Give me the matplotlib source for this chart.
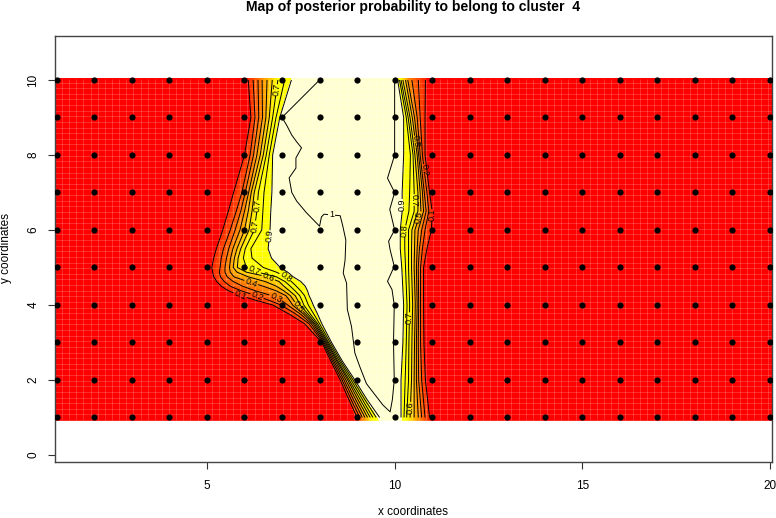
"""Posterior probability map for cluster 4, rebuilt from contour positions read off the picture."""
import matplotlib
matplotlib.use("Agg")
import matplotlib.pyplot as plt
from matplotlib.colors import to_hex
import numpy as np

plt.rcParams["font.family"] = ["Liberation Sans", "DejaVu Sans"]

# site grid
site_x = list(range(1, 21))
site_y = list(range(1, 11))

levels = [0.1, 0.2, 0.3, 0.4, 0.5, 0.6, 0.7, 0.8, 0.9]

# left flank: x position of each contour level along these rows
left_y = [10, 9, 8, 7, 6.5, 6, 5.5, 5.25, 5, 4.875, 4.75, 4.625, 4.5, 4.375, 4.25, 4.125, 4, 3.75, 3.5, 3, 2.5, 2, 1.5, 1]
left_01 = [6.10, 6.17, 6.00, 5.71, 5.57, 5.42, 5.25, 5.18, 5.13, 5.15, 5.18, 5.26, 5.38, 5.58, 5.90, 6.30, 6.75, 7.20, 7.60, 8.06, 8.30, 8.55, 8.77, 9.00]
left_02 = [6.23, 6.28, 6.15, 5.93, 5.78, 5.62, 5.44, 5.38, 5.35, 5.33, 5.36, 5.46, 5.62, 5.92, 6.30, 6.65, 6.97, 7.38, 7.72, 8.09, 8.34, 8.60, 8.83, 9.07]
left_03 = [6.36, 6.38, 6.24, 6.02, 5.90, 5.75, 5.58, 5.52, 5.48, 5.48, 5.54, 5.70, 5.95, 6.30, 6.72, 6.98, 7.15, 7.50, 7.78, 8.12, 8.38, 8.65, 8.89, 9.14]
left_04 = [6.47, 6.48, 6.33, 6.11, 6.00, 5.88, 5.69, 5.63, 5.60, 5.62, 5.72, 6.08, 6.50, 6.85, 7.10, 7.20, 7.28, 7.58, 7.83, 8.15, 8.42, 8.70, 8.95, 9.21]
left_05 = [6.60, 6.57, 6.42, 6.18, 6.10, 6.00, 5.80, 5.73, 5.70, 5.80, 6.10, 6.55, 6.85, 7.05, 7.22, 7.31, 7.38, 7.64, 7.87, 8.18, 8.46, 8.75, 9.01, 9.28]
left_06 = [6.74, 6.66, 6.50, 6.26, 6.20, 6.12, 5.90, 5.83, 5.81, 6.05, 6.62, 6.92, 7.05, 7.20, 7.35, 7.42, 7.48, 7.70, 7.91, 8.21, 8.49, 8.79, 9.07, 9.35]
left_07 = [6.89, 6.75, 6.58, 6.37, 6.33, 6.26, 6.02, 5.97, 6.05, 6.35, 6.85, 7.08, 7.22, 7.35, 7.47, 7.53, 7.58, 7.76, 7.95, 8.24, 8.53, 8.84, 9.13, 9.42]
left_08 = [7.07, 6.84, 6.66, 6.52, 6.49, 6.46, 6.17, 6.20, 6.50, 6.85, 7.10, 7.25, 7.38, 7.50, 7.60, 7.65, 7.70, 7.85, 8.00, 8.28, 8.57, 8.89, 9.19, 9.51]
left_09 = [7.25, 6.94, 6.75, 6.73, 6.70, 6.68, 6.63, 6.72, 6.95, 7.15, 7.30, 7.50, 7.62, 7.68, 7.72, 7.78, 7.83, 7.95, 8.06, 8.32, 8.61, 8.94, 9.25, 9.60]

# right flank
right_y = [10, 9, 8, 7, 6.5, 6, 5.5, 5, 4, 3, 2, 1]
right_09 = [10.08, 10.24, 10.24, 10.20, 10.20, 10.15, 10.15, 10.19, 10.24, 10.22, 10.17, 10.17]
right_08 = [10.13, 10.31, 10.42, 10.40, 10.38, 10.27, 10.27, 10.29, 10.33, 10.31, 10.28, 10.25]
right_07 = [10.17, 10.36, 10.49, 10.52, 10.52, 10.37, 10.37, 10.37, 10.40, 10.38, 10.37, 10.32]
right_06 = [10.22, 10.41, 10.54, 10.62, 10.62, 10.46, 10.45, 10.45, 10.48, 10.46, 10.45, 10.41]
right_05 = [10.29, 10.47, 10.60, 10.68, 10.70, 10.54, 10.53, 10.52, 10.55, 10.53, 10.52, 10.52]
right_04 = [10.35, 10.53, 10.64, 10.74, 10.77, 10.63, 10.60, 10.58, 10.60, 10.58, 10.58, 10.63]
right_03 = [10.46, 10.60, 10.68, 10.79, 10.84, 10.72, 10.66, 10.63, 10.64, 10.63, 10.64, 10.72]
right_02 = [10.63, 10.68, 10.74, 10.86, 10.91, 10.81, 10.74, 10.69, 10.69, 10.69, 10.72, 10.81]
right_01 = [10.82, 10.81, 10.81, 10.93, 11.00, 10.98, 10.86, 10.77, 10.77, 10.78, 10.82, 10.93]

# level 1 contour, traced
one_x = [8.00, 7.50, 7.00, 7.12, 7.26, 7.39, 7.52, 7.37, 7.37, 7.19, 7.26, 7.39, 7.65, 8.00, 8.05, 8.12, 8.55,
         8.62, 8.70, 8.68, 8.63, 8.72, 8.74, 8.85, 8.94, 9.07, 9.25, 9.38, 9.69, 9.88,
         9.94, 9.99, 9.97, 9.99, 9.93, 9.81, 9.99, 9.88, 9.84, 10.00, 9.87, 10.00, 9.81, 10.00, 10.00, 10.00]
one_y = [10.00, 9.50, 9.00, 8.80, 8.53, 8.35, 8.19, 7.92, 7.65, 7.39, 7.00, 6.77, 6.46, 6.10, 6.35, 6.42, 6.38,
         6.10, 5.73, 5.20, 4.85, 4.58, 3.88, 3.43, 2.72, 2.36, 1.90, 1.73, 1.33, 1.15,
         1.48, 2.00, 3.00, 4.00, 4.41, 4.63, 5.03, 5.47, 5.70, 6.00, 6.55, 7.00, 7.38, 8.00, 9.00, 10.00]

# contour label spots (x, y)
left_labels = [(6.88, 9.73), (6.30, 6.64), (6.24, 6.10), (6.64, 5.84), (6.25, 4.90), (6.64, 4.74), (7.10, 4.76),
               (6.18, 4.61), (5.88, 4.26), (6.33, 4.23), (6.84, 4.20), (7.43, 3.95)]
right_labels = [(10.24, 6.67), (10.55, 6.80), (10.55, 8.36), (10.77, 7.60), (11.00, 6.40), (10.30, 5.97),
                (10.62, 6.35), (10.37, 3.65), (10.46, 1.26)]

x_ticks = [5, 10, 15, 20]
y_ticks = [0, 2, 4, 6, 8, 10]

# colours: red below 0.1, ramp to yellow, pale above 0.9
fill_levels = [0.0, 0.1] + list(np.round(np.arange(0.15, 0.901, 0.05), 2)) + [1.0]
fill_colors = ["#ff0000"]
for lo in fill_levels[1:-2]:
    fill_colors.append(to_hex((1.0, min(1.0, (lo + 0.025) / 0.72), 0.0)))
fill_colors.append("#ffffd2")

XL = 0.9
XR = 20.1
IMG_BOTTOM = 0.93
IMG_TOP = 10.03


def flank_grid(rows_y, columns, z_values):
    X = np.array(columns, dtype=float).T
    Y = np.tile(np.array(rows_y, dtype=float)[:, None], (1, X.shape[1]))
    Z = np.tile(np.array(z_values, dtype=float), (X.shape[0], 1))
    return X, Y, Z


n_left = len(left_y)
n_right = len(right_y)
left_cols = [[XL] * n_left, left_01, left_02, left_03, left_04, left_05, left_06, left_07, left_08, left_09, [10.0] * n_left]
right_cols = [[10.0] * n_right, right_09, right_08, right_07, right_06, right_05, right_04, right_03, right_02, right_01, [XR] * n_right]

XA, YA, ZA = flank_grid(left_y, left_cols, [0.0] + levels + [1.0])
XB, YB, ZB = flank_grid(right_y, right_cols, [1.0] + levels[::-1] + [0.0])

fig = plt.figure(figsize=(7.76, 5.18), dpi=100)
ax = fig.add_axes([55 / 776, 1 - 462 / 518, (771.7 - 55) / 776, (462 - 35.7) / 518])

for X, Y, Z in [(XA, YA, ZA), (XB, YB, ZB)]:
    # image reaches a bit past the outer sites
    Y_img = Y.copy()
    Y_img[0, :] = IMG_TOP
    Y_img[-1, :] = IMG_BOTTOM
    ax.contourf(X, Y_img, Z, levels=fill_levels, colors=fill_colors, antialiased=False, zorder=1)

# the faint seams between image cells
seam_x = np.arange(0.95, 20.1, 0.19)
seam_y = np.arange(0.93, 10.05, 0.15)
ax.vlines(seam_x, IMG_BOTTOM, IMG_TOP, colors="white", linewidth=0.7, alpha=0.18, zorder=2)
ax.hlines(seam_y, 0.9, 20.1, colors="white", linewidth=0.7, alpha=0.18, zorder=2)

cs_left = ax.contour(XA, YA, ZA, levels=levels, colors="black", linewidths=0.7, zorder=3)
cs_right = ax.contour(XB, YB, ZB, levels=levels, colors="black", linewidths=0.7, zorder=3)
ax.clabel(cs_left, manual=left_labels, fontsize=6.5, fmt="%.1f", inline=True, inline_spacing=1)
ax.clabel(cs_right, manual=right_labels, fontsize=6.5, fmt="%.1f", inline=True, inline_spacing=1)

ax.plot(one_x, one_y, color="black", linewidth=0.7, zorder=3)
ax.text(8.32, 6.40, "1", fontsize=6.5, ha="center", va="center", zorder=4,
        bbox=dict(facecolor="#ffffd2", edgecolor="none", pad=0.5))

gx, gy = np.meshgrid(site_x, site_y)
ax.scatter(gx.ravel(), gy.ravel(), s=20, c="black", linewidths=0, zorder=5)

ax.set_xlim(0.952, 20.045)
ax.set_ylim(-0.187, 11.18)
ax.set_xticks(x_ticks)
ax.set_yticks(y_ticks)
ax.tick_params(axis="both", length=5.2, width=0.8, color="#333333", labelsize=8.5)
ax.tick_params(axis="x", pad=8)
ax.tick_params(axis="y", pad=6)
for lab in ax.get_yticklabels():
    lab.set_rotation(90)
    lab.set_va("center")
for sp in ax.spines.values():
    sp.set_color("#444444")
    sp.set_linewidth(1.0)

fig.text(413 / 776, 1 - 7 / 518, "Map of posterior probability to belong to cluster  4",
         ha="center", va="center", fontsize=10.1, fontweight="bold")
fig.text(413 / 776, 1 - 512 / 518, "x coordinates", ha="center", va="center", fontsize=8.5)
fig.text(6 / 776, 1 - 248 / 518, "y coordinates", ha="center", va="center", rotation=90, fontsize=8.5)

fig.savefig("out.png", dpi=100)
plt.close(fig)
